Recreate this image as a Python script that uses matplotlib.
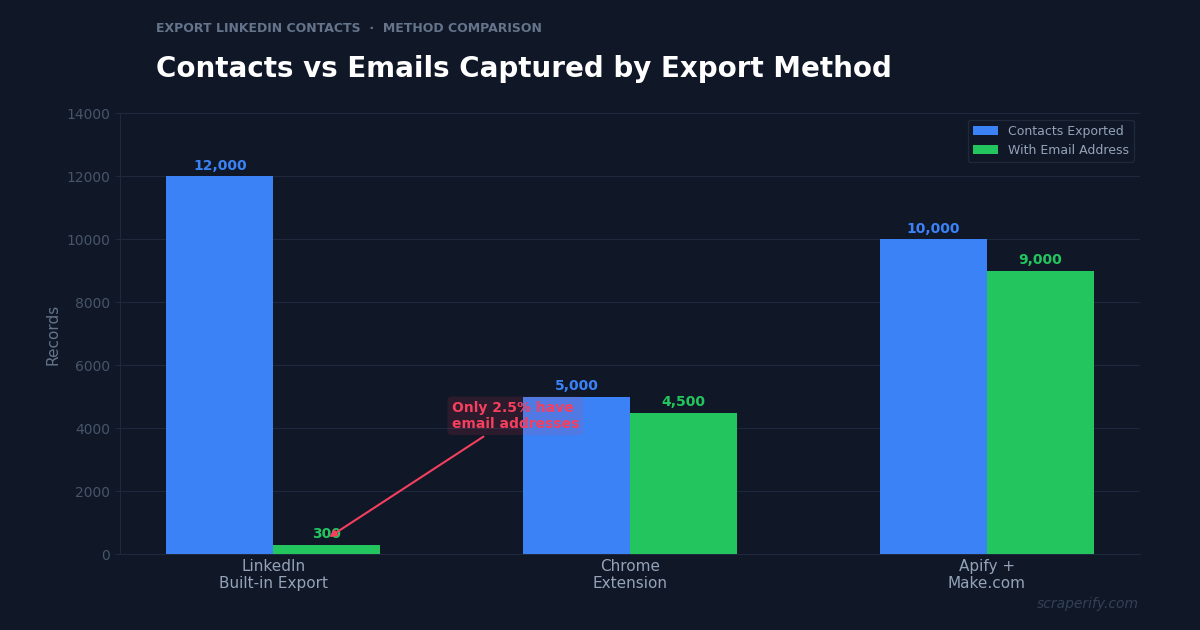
import matplotlib
matplotlib.use("Agg")
import matplotlib.pyplot as plt
import numpy as np

# chart data
methods = ["LinkedIn\nBuilt-in Export", "Chrome\nExtension", "Apify +\nMake.com"]
contacts = [12000, 5000, 10000]
emails = [300, 4500, 9000]
series_names = ["Contacts Exported", "With Email Address"]

bg = "#101727"
blue = "#3b82f6"
green = "#22c55e"
rose = "#f43f5e"

fig = plt.figure(figsize=(12, 6.3), dpi=100, facecolor=bg)
ax = fig.add_axes([0.10, 0.12, 0.85, 0.70])
ax.set_facecolor(bg)

x = np.arange(len(methods))
w = 0.3
b1 = ax.bar(x - w / 2, contacts, w, color=blue, label=series_names[0], zorder=3)
b2 = ax.bar(x + w / 2, emails, w, color=green, label=series_names[1], zorder=3)

for xi, v in zip(x - w / 2, contacts):
    ax.text(xi, v + 110, f"{v:,}", ha="center", va="bottom", color=blue,
            fontsize=10, fontweight="bold", zorder=4)
for xi, v in zip(x + w / 2, emails):
    ax.text(xi, v + 110, f"{v:,}", ha="center", va="bottom", color=green,
            fontsize=10, fontweight="bold", zorder=4)

ax.set_ylim(0, 14000)
ax.set_yticks(np.arange(0, 14001, 2000))
ax.set_xticks(x)
ax.set_xticklabels(methods, color="#94a3b8", fontsize=11)
ax.tick_params(axis="y", colors="#475569", labelsize=10)
ax.tick_params(axis="x", length=0, pad=3, labelcolor="#94a3b8")
ax.tick_params(axis="y", color="#1e293b")
ax.grid(axis="y", color="#1e293b", linewidth=0.8, zorder=0)
for s in ["top", "right"]:
    ax.spines[s].set_visible(False)
for s in ["left", "bottom"]:
    ax.spines[s].set_color("#1e293b")
ax.set_ylabel("Records", color="#64748b", fontsize=11)

leg = ax.legend(loc="upper right", facecolor=bg, edgecolor="#1e293b",
                fontsize=9, labelcolor="#94a3b8", framealpha=1)

ax.annotate("Only 2.5% have\nemail addresses", xy=(0.15, 500), xytext=(0.5, 4400),
            ha="left", va="center", color=rose, fontsize=10, fontweight="bold",
            arrowprops=dict(arrowstyle="-|>", color=rose, lw=1.5),
            bbox=dict(boxstyle="round,pad=0.3", fc=rose, ec="none", alpha=0.12),
            zorder=5)

fig.text(0.13, 0.955, "EXPORT LINKEDIN CONTACTS  ·  METHOD COMPARISON",
         color="#64748b", fontsize=9, fontweight="bold", va="center")
fig.text(0.13, 0.891, "Contacts vs Emails Captured by Export Method",
         color="white", fontsize=20, fontweight="bold", va="center")
fig.text(0.949, 0.041, "scraperify.com", color="#334155", fontsize=10,
         style="italic", ha="right", va="center")

fig.savefig("out.png", dpi=100, facecolor=bg)
